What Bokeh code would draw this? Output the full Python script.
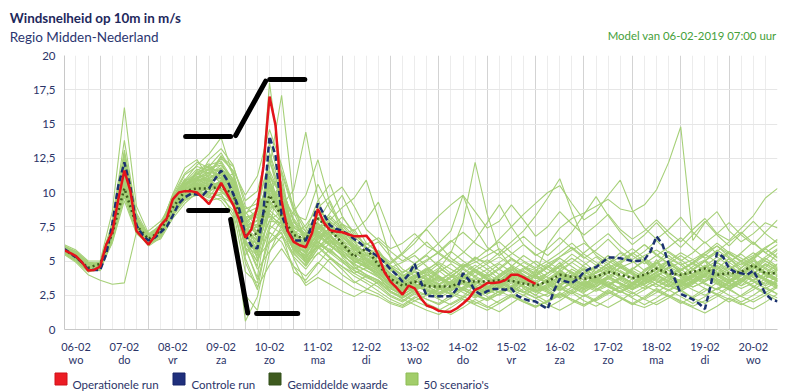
from bokeh.plotting import figure
from bokeh.models import Range1d, FixedTicker
from bokeh.layouts import column
from bokeh.embed import file_html
from bokeh.resources import INLINE
from bokeh.core.properties import value

# ---------------- data ----------------
# time axis: hours since 06-02 00:00
op_hours = list(range(6, 241, 3))
ctrl_hours = list(range(6, 361, 3))
scen_hours = list(range(6, 361, 6))

operational = [5.8,5.6,5.35,4.9,4.3,4.35,4.6,
               6.2,7.1,9.5,11.6,10.1,7.2,6.7,6.2,
               6.8,7.6,8.1,9.5,10.0,10.1,10.1,10.0,
               9.6,9.15,9.9,10.7,9.9,9.1,8.0,6.7,
               7.3,9.0,11.9,17.0,14.9,9.4,7.2,6.4,
               6.15,6.0,7.0,8.8,7.8,7.25,7.15,7.1,
               6.95,6.8,6.8,6.85,6.3,5.4,4.2,3.5,
               3.05,2.55,3.2,3.0,2.3,1.75,1.6,1.36,
               1.3,1.3,1.55,1.9,2.3,2.9,3.1,3.4,
               3.4,3.45,3.6,4.0,4.0,3.8,3.55,3.33]

control = [5.9,5.6,5.25,4.9,4.4,4.35,4.35,
           5.5,7.7,10.5,12.2,10.4,7.6,6.9,6.5,
           6.7,7.1,7.5,8.3,9.2,9.65,9.9,9.85,
           9.8,10.3,11.0,11.6,10.9,9.9,8.8,6.9,
           6.1,5.9,8.6,14.1,12.7,8.4,7.2,6.5,
           6.5,6.5,7.6,9.2,8.4,7.6,7.35,7.2,
           6.95,6.6,6.3,5.9,5.6,5.3,4.9,4.4,
           4.0,3.5,4.0,4.8,3.5,2.45,2.43,2.43,
           2.42,2.42,3.0,4.1,3.6,2.8,2.55,2.8,
           2.95,2.95,2.9,3.0,2.45,2.25,2.1,2.05,
           1.75,1.5,2.8,3.7,3.5,3.4,3.7,4.2,
           4.45,4.55,4.9,5.25,5.25,5.2,5.1,5.0,
           5.0,5.1,5.7,6.8,6.2,4.8,3.7,2.6,
           2.4,2.2,1.9,1.5,3.3,5.6,5.3,4.45,
           4.2,4.1,4.0,4.3,3.5,2.6,2.2,2.05]

mean_value = [5.8,5.3,4.5,4.8,7.0,10.3,7.6,6.6,7.2,8.9,
              10.1,10.3,10.3,10.4,9.9,6.8,7.0,9.8,8.3,6.9,
              6.6,8.1,7.3,6.3,5.3,5.95,4.7,3.7,3.2,3.5,
              3.15,3.14,3.14,3.5,3.5,3.5,3.6,3.55,3.35,3.2,
              3.5,4.0,3.85,3.7,3.85,4.2,4.0,3.75,4.0,4.45,
              4.1,4.0,4.2,4.45,4.0,4.1,4.2,4.7,4.1,4.1]

scenarios = [
 [5.9,5.4,4.5,4.9,7.5,12.5,7.8,6.4,7.0,9.2, 10.5,11.2,10.8,11.6,10.2,7.4,6.2,11.5,8.1,6.0, 5.4,7.2,6.5,5.8,4.9,5.2,4.6,3.5,2.9,3.4, 2.8,2.6,3.1,3.9,3.2,2.7,3.4,4.1,3.0,2.5, 3.2,4.4,3.6,3.1,4.2,4.8,3.7,3.2,3.9,5.1, 4.0,3.5,4.4,5.0,3.7,3.4,4.5,5.3,3.9,3.6],
 [5.7,5.1,4.4,4.5,6.6,10.2,7.3,6.9,7.6,9.6, 11.0,10.1,9.7,10.8,11.4,8.2,5.1,8.6,9.7,7.3, 6.1,8.8,7.9,6.2,5.0,4.6,5.3,4.4,3.6,2.9, 3.4,3.9,2.7,2.4,3.3,4.0,3.1,2.8,3.6,4.3, 3.5,3.0,2.6,3.4,4.5,3.9,3.3,2.9,3.6,4.2, 5.0,4.1,3.4,3.9,4.6,3.7,3.2,4.0,4.8,4.3],
 [6.1,5.6,4.8,4.4,7.9,13.8,8.4,6.2,6.8,8.4, 9.6,10.9,11.7,12.2,10.6,5.9,3.8,9.2,10.8,6.9, 4.8,6.1,8.3,7.4,6.2,5.1,4.2,3.1,2.6,3.8, 4.2,3.3,2.5,3.0,3.9,4.4,3.7,3.0,2.7,3.3, 4.1,4.9,4.0,3.4,3.1,3.8,4.6,4.1,3.3,3.8, 4.5,4.9,4.0,3.6,4.4,5.2,4.3,3.8,4.5,5.6],
 [5.6,5.0,4.2,4.6,6.3,9.4,7.0,6.5,7.4,9.9, 11.8,12.4,11.0,10.1,9.3,4.9,2.9,7.4,11.6,8.8, 7.1,6.4,5.6,6.9,7.3,6.0,4.9,3.8,3.3,2.7, 2.5,3.2,3.8,4.1,3.5,2.9,2.5,3.1,3.8,4.0, 3.3,2.8,3.4,4.0,3.6,3.1,2.7,3.3,4.4,4.9, 3.8,3.2,3.6,4.3,3.5,2.9,3.4,4.1,3.6,3.1],
 [5.5,4.9,4.0,3.6,3.3,3.4,7.1,7.2,7.9,9.3, 10.2,9.8,10.6,11.3,10.0,7.9,8.3,10.9,7.6,5.8, 5.2,6.6,7.0,5.3,4.4,4.9,5.8,4.6,3.9,4.2, 3.6,3.1,3.5,4.4,3.8,3.3,3.9,4.5,3.9,3.4, 3.9,4.6,4.2,3.8,4.1,4.6,4.2,3.7,4.2,4.9, 4.3,3.9,4.6,5.1,4.2,3.8,4.3,5.0,4.4,3.9],
 [6.2,5.8,5.0,5.0,8.6,16.2,9.0,7.0,7.6,9.0, 10.4,11.6,12.1,11.0,9.6,6.4,4.6,12.8,9.4,5.6, 4.6,5.9,6.8,7.6,6.5,4.6,3.9,2.8,2.3,2.9, 3.5,4.3,3.6,2.9,2.4,3.0,3.8,4.4,3.5,2.8, 2.4,3.1,3.9,4.5,3.8,3.2,3.7,4.4,5.0,4.1, 3.3,2.8,3.4,4.1,4.9,4.2,3.6,3.1,3.7,4.4],
 [5.8,5.2,4.7,4.8,7.2,11.9,7.9,6.7,7.1,9.4, 10.9,12.0,12.8,14.0,11.2,7.2,5.6,10.4,8.8,6.2, 5.6,7.8,6.9,6.0,5.5,5.8,4.4,3.3,2.8,3.1, 2.9,2.3,2.8,3.4,3.0,2.6,3.1,3.7,3.2,2.8, 3.0,3.6,3.1,2.7,3.3,3.9,3.4,3.0,3.5,4.0, 3.6,3.2,3.8,4.3,3.9,3.4,3.9,4.5,4.0,3.5],
 [5.9,5.5,4.6,4.3,6.9,10.8,7.4,6.3,6.6,8.1, 9.2,10.0,9.6,9.9,8.4,0.6,2.4,6.3,7.1,4.2, 3.6,4.8,5.9,5.0,4.1,3.6,3.1,2.4,2.0,2.6, 2.2,1.8,2.3,2.9,2.5,2.1,2.6,3.2,2.7,2.3, 2.6,3.2,2.8,2.4,2.9,3.5,3.0,2.6,3.1,3.7, 3.2,2.8,3.3,3.9,3.4,3.0,3.5,4.1,3.6,3.2],
 [5.7,5.2,4.5,4.8,7.4,12.1,8.1,6.8,7.3,9.1, 10.6,11.4,10.9,10.2,9.0,5.4,6.8,18.0,11.3,6.5, 5.0,6.3,7.5,6.6,5.2,4.5,4.0,3.0,2.5,3.1, 3.7,3.2,2.8,3.5,4.2,3.6,3.1,2.7,3.3,4.0, 3.4,2.9,3.5,4.2,3.7,3.2,2.8,3.4,4.1,3.6, 3.1,3.7,4.4,3.8,3.3,2.9,3.5,4.2,3.7,3.2],
 [6.0,5.5,4.7,4.6,7.1,11.3,7.7,6.5,7.5,9.5, 10.8,10.6,10.0,10.9,10.4,7.6,7.9,11.8,17.1,9.3, 6.0,7.0,6.2,5.4,4.8,5.5,4.8,3.7,3.0,3.6, 3.2,2.7,3.2,3.8,3.3,2.9,3.5,4.0,3.5,3.0, 3.6,4.2,3.7,3.3,3.9,4.4,3.9,3.4,3.8,4.5, 4.0,3.5,4.1,4.7,4.1,3.6,4.2,4.8,4.2,3.7],
 [5.8,5.3,4.6,4.9,7.6,11.6,8.0,6.8,7.2,8.7, 9.9,10.5,10.7,10.6,10.1,7.0,7.6,10.6,9.0,10.2, 14.4,9.6,6.8,5.9,5.3,4.8,4.2,3.4,2.9,3.3, 3.0,2.6,3.0,3.6,3.1,2.8,3.3,3.9,3.4,2.9, 3.3,3.9,3.4,3.0,3.6,4.1,3.6,3.1,3.6,4.2, 3.7,3.3,3.9,4.4,3.9,3.4,4.0,4.6,4.0,3.5],
 [5.6,5.1,4.4,4.7,6.8,10.6,7.5,6.6,7.0,8.6, 9.8,10.4,10.5,10.8,10.6,8.4,9.6,8.2,7.4,8.6, 9.8,12.4,9.2,7.1,5.9,5.2,4.6,3.6,3.1,3.5, 3.3,2.9,3.4,3.9,3.5,3.1,3.6,4.2,3.6,3.2, 3.5,4.1,3.6,3.2,3.7,4.3,3.8,3.3,3.8,4.4, 3.9,3.4,4.0,4.6,4.0,3.5,4.1,4.7,4.1,3.6],
 [5.9,5.4,4.7,4.5,7.3,12.8,8.2,6.6,6.9,8.8, 10.3,11.0,11.4,11.8,10.8,6.2,5.4,9.5,10.4,7.9, 6.4,7.3,8.0,8.9,9.6,10.9,8.1,5.2,4.1,4.8, 5.4,4.6,3.9,4.5,5.3,4.7,4.0,4.6,5.4,4.8, 4.1,4.7,5.5,4.9,4.2,4.8,5.6,5.0,4.3,4.9, 5.7,5.1,4.4,5.0,5.8,5.2,4.5,5.1,5.9,5.3],
 [5.7,5.2,4.5,4.6,7.0,10.9,7.6,6.5,7.3,9.2, 10.4,10.2,10.6,10.1,9.7,5.8,6.1,8.7,7.9,5.9, 5.1,6.8,6.1,5.5,4.7,4.3,3.8,3.2,2.7,3.2, 3.6,4.4,5.6,7.8,12.2,8.4,5.7,4.6,4.0,3.4, 3.0,3.6,4.2,3.6,3.1,3.7,4.3,3.8,3.3,3.9, 4.5,3.9,3.4,4.0,4.6,4.0,3.5,4.1,4.7,4.1],
 [5.8,5.3,4.6,4.8,7.2,11.4,7.8,6.6,7.0,8.5, 9.7,10.3,10.8,11.1,10.3,7.7,8.6,11.0,8.2,6.3, 6.0,7.5,7.8,6.8,5.8,5.4,5.0,4.1,3.5,4.0, 3.7,3.3,3.8,4.6,5.2,4.9,5.6,6.4,7.2,8.3, 9.6,11.0,8.6,6.5,5.4,4.8,5.3,5.9,5.2,4.6, 5.0,5.6,5.1,4.5,5.0,5.7,5.2,4.7,5.3,5.9],
 [6.0,5.6,4.9,4.8,7.7,12.2,7.9,6.7,7.1,8.8, 9.9,10.4,10.2,10.9,9.5,6.6,7.0,9.3,8.0,6.1, 5.7,7.1,6.4,5.8,5.0,4.7,4.3,3.6,3.1,3.6, 4.0,3.5,4.1,4.8,4.3,3.8,4.4,5.1,4.6,4.1, 6.2,7.4,8.1,8.5,9.0,9.5,8.8,8.6,9.1,10.2, 12.2,14.8,6.5,7.8,8.6,7.2,6.4,7.0,7.8,7.4],
 [5.9,5.4,4.6,4.7,7.1,11.8,8.0,6.9,7.5,9.3, 10.7,11.1,11.3,12.0,11.0,8.8,9.2,12.3,9.9,7.5, 6.8,8.4,7.6,6.9,6.1,5.6,5.2,4.8,5.5,6.3, 7.4,8.3,9.1,9.8,8.6,7.4,7.9,9.1,8.0,6.8, 7.5,8.6,7.7,6.9,7.6,8.4,7.3,6.6,7.2,8.0, 7.1,6.4,7.3,8.1,7.0,6.5,7.4,8.3,9.6,10.3],
 [5.8,5.3,4.5,4.6,6.9,10.4,7.4,6.4,7.0,8.9, 10.0,10.7,11.5,12.6,11.9,9.4,10.1,13.6,10.5,7.8, 7.2,9.4,10.6,8.3,6.9,6.2,6.7,5.9,6.3,7.0, 6.1,5.6,6.4,7.1,6.3,5.7,6.6,7.5,8.4,9.2, 10.0,10.5,9.2,8.0,8.6,9.8,10.9,8.7,7.4,6.6, 7.3,8.2,7.1,6.3,7.0,7.8,6.9,6.2,7.1,8.0],
 [5.6,5.0,4.3,4.5,6.5,9.8,7.2,6.3,7.1,9.6, 11.3,11.9,11.6,11.2,10.6,8.0,8.7,10.2,8.7,7.0, 7.6,8.9,9.7,10.4,9.0,7.3,6.5,5.7,5.0,5.6, 6.4,5.5,4.9,5.6,6.5,7.8,9.1,7.5,6.2,5.4, 5.9,6.7,5.9,5.2,5.8,6.6,5.7,5.1,5.7,6.5, 5.6,5.0,5.6,6.4,5.5,4.9,5.6,6.4,5.6,5.0],
 [6.0,5.5,4.7,4.9,7.8,13.1,8.5,6.9,7.4,9.0, 10.2,10.9,12.4,13.2,12.0,9.0,8.1,11.1,9.8,8.4, 8.0,10.6,8.8,7.7,7.2,8.0,9.3,7.0,5.4,4.8, 5.5,6.3,7.2,9.8,7.4,6.0,5.4,6.1,6.8,6.0, 5.4,6.2,7.1,8.4,9.7,8.3,7.1,6.2,6.9,7.8, 6.8,6.0,6.9,7.9,6.9,6.1,7.0,7.9,7.0,6.3],
 [5.7,5.1,4.3,4.4,6.7,10.0,7.1,6.1,6.7,8.3, 9.4,9.9,9.4,9.6,8.7,4.2,3.4,7.1,6.4,4.6, 3.9,4.9,4.2,3.6,3.0,2.7,2.4,1.9,1.6,2.1, 1.7,1.4,1.9,2.4,2.0,1.6,2.1,2.6,2.1,1.7, 2.0,2.6,2.1,1.7,2.2,2.8,2.3,1.8,2.3,2.9, 2.4,1.9,2.4,3.0,2.5,2.0,2.5,3.1,2.6,2.1],
 [5.8,5.2,4.4,4.3,6.4,9.7,7.0,6.2,6.9,8.7, 9.8,10.2,9.8,9.4,8.2,2.5,1.4,5.6,7.6,5.2, 3.4,4.1,5.2,4.4,3.5,3.0,2.6,2.0,1.7,2.3, 2.7,2.2,1.8,2.3,2.9,2.4,1.9,2.4,3.0,2.5, 2.0,2.5,3.1,2.6,2.1,2.6,3.2,2.7,2.2,2.7, 3.3,2.8,2.3,2.8,3.4,2.9,2.4,2.9,3.5,3.0],
 [5.9,5.4,4.6,4.5,7.0,11.2,7.7,6.6,7.2,8.7, 9.5,9.8,10.1,10.5,9.8,6.5,4.4,5.7,6.8,5.3, 4.4,5.6,4.9,4.0,3.4,3.9,3.3,2.5,2.1,2.7, 2.2,1.9,2.5,3.1,2.6,2.2,2.8,3.4,2.8,2.3, 1.8,1.4,1.9,2.5,2.0,1.6,2.1,2.7,2.2,1.8, 2.3,2.9,2.3,1.9,2.4,3.0,2.4,2.0,2.5,3.1],
 [5.6,5.0,4.2,4.4,6.6,10.5,7.3,6.4,7.0,8.5, 9.6,10.0,10.4,10.2,9.1,5.2,3.1,4.7,5.9,4.6, 3.2,3.8,3.3,2.8,2.4,2.9,3.5,2.8,2.2,1.8, 1.4,1.1,1.6,2.2,1.8,1.4,1.9,2.5,2.0,1.6, 2.1,2.7,2.2,1.8,2.3,2.9,2.4,1.9,2.4,3.0, 2.5,2.0,1.6,1.2,1.7,2.3,1.9,1.5,2.0,2.6],
 [5.8,5.3,4.5,4.6,6.8,10.9,7.5,6.5,7.1,8.8, 10.0,10.3,10.0,9.7,9.2,7.1,5.2,6.4,7.3,5.8, 4.9,6.1,5.3,4.6,3.9,3.4,2.8,2.2,1.8,2.4, 1.9,1.5,1.1,1.6,2.2,1.7,1.3,1.9,2.5,2.0, 1.6,2.1,2.7,2.1,1.7,2.2,2.8,2.3,1.8,2.3, 2.9,2.4,1.9,2.4,3.0,2.5,2.0,2.5,3.1,2.6],
 [6.1,5.7,4.9,4.8,7.5,12.9,8.3,6.8,7.3,9.0, 10.3,11.5,11.9,11.4,10.9,8.6,7.4,10.0,8.9,7.1, 6.3,7.6,6.8,6.2,5.8,6.3,5.7,4.4,3.7,4.3, 3.8,3.3,3.9,4.5,3.9,3.4,4.0,4.6,4.0,3.5, 4.1,4.7,4.1,3.6,4.2,4.8,4.2,3.7,4.3,4.9, 4.3,3.8,4.4,5.0,4.4,3.9,4.5,5.1,4.5,4.0],
 [5.7,5.2,4.4,4.7,7.3,11.5,7.9,6.7,7.6,9.8, 11.4,12.2,11.8,11.0,10.5,7.3,6.5,9.0,10.3,8.0, 6.6,7.0,7.9,7.2,6.4,5.5,4.9,4.0,3.4,3.0, 3.5,4.2,4.8,4.1,3.5,3.1,3.6,4.3,4.9,4.4, 3.8,3.3,3.9,4.7,5.3,4.6,3.9,3.4,4.0,4.8, 5.4,4.7,4.0,3.5,4.1,4.9,5.5,4.8,4.1,3.6],
 [5.9,5.4,4.7,4.6,7.2,11.0,7.7,6.6,7.2,9.3, 10.6,11.3,12.0,12.3,10.9,7.8,6.0,8.8,9.5,7.4, 6.9,8.1,7.3,6.4,5.7,5.0,4.5,3.8,3.3,3.9, 4.5,3.9,3.3,2.9,3.4,4.1,4.8,4.2,3.6,3.1, 3.5,4.2,4.9,4.3,3.7,3.2,3.7,4.4,5.1,4.5, 3.9,3.4,3.9,4.6,5.3,4.7,4.1,3.6,4.1,4.8],
 [5.8,5.3,4.6,4.8,7.4,12.0,8.1,6.9,7.4,9.1, 10.2,10.8,11.2,12.7,11.5,8.5,8.9,10.5,8.4,6.4, 5.5,6.8,7.1,6.5,5.9,5.1,4.6,3.9,3.6,4.2, 3.6,3.0,3.5,4.1,4.7,4.1,3.5,3.0,3.5,4.1, 4.7,4.1,3.5,3.0,3.5,4.2,4.8,4.2,3.6,3.1, 3.6,4.3,4.9,4.3,3.7,3.2,3.7,4.4,5.0,4.4],
 [5.6,5.1,4.5,4.6,6.9,10.7,7.6,6.8,7.7,9.7, 10.9,11.0,10.5,11.7,10.8,7.9,6.9,8.5,7.5,6.1, 5.3,6.5,7.4,8.2,7.1,6.0,5.3,4.5,4.9,5.4, 4.6,3.9,3.4,3.8,4.4,3.7,3.2,2.8,3.3,3.9, 4.5,5.2,4.6,4.0,3.6,3.2,3.8,4.5,4.0,3.5, 3.1,3.6,4.3,5.0,5.6,4.9,4.3,3.8,3.3,3.9],
 [5.9,5.5,4.8,4.7,7.4,12.3,8.0,6.6,6.9,8.6, 9.9,10.6,11.1,11.5,10.4,7.0,5.9,8.0,8.6,6.7, 5.9,7.4,6.6,5.7,5.3,4.7,4.1,3.3,2.8,3.5, 4.1,4.8,4.1,3.5,3.0,2.6,3.2,3.9,4.5,3.9, 3.3,2.9,3.4,4.0,3.5,3.1,2.7,3.2,3.8,4.4, 5.0,4.4,3.8,3.3,2.9,3.4,4.0,4.6,5.2,4.6],
 [5.7,5.2,4.3,4.5,6.7,10.1,7.2,6.3,7.0,9.0, 10.5,11.3,11.7,11.6,10.7,8.1,7.0,9.6,9.1,7.6, 7.0,8.6,8.1,7.3,6.5,5.9,5.4,4.6,4.0,3.7, 4.3,5.0,5.7,5.0,4.4,3.9,4.5,5.2,4.6,4.0, 4.6,5.3,6.0,5.3,4.7,4.2,4.8,5.5,6.2,5.5, 4.8,4.3,4.9,5.6,6.3,5.6,5.0,4.5,5.1,5.8],
 [5.8,5.4,4.6,4.4,6.9,11.3,7.6,6.5,7.0,8.6, 9.8,10.4,10.8,10.5,9.4,6.0,5.0,7.6,7.0,5.5, 4.7,5.9,6.5,5.6,4.6,4.0,3.6,3.0,2.6,3.0, 3.5,3.0,2.6,3.1,3.7,3.2,2.7,3.2,3.8,3.3, 2.8,2.4,2.9,3.5,3.0,2.6,3.1,3.7,3.2,2.8, 2.4,2.9,3.5,3.0,2.6,3.1,3.7,3.2,2.7,3.2],
 [6.0,5.6,4.8,4.9,7.6,12.6,8.2,6.9,7.3,8.9, 10.1,10.5,11.0,11.8,10.3,7.5,8.0,10.8,9.2,6.6, 5.8,6.9,6.3,5.9,5.4,4.9,4.4,3.7,3.2,3.8, 4.4,3.8,3.3,3.8,4.5,5.1,4.4,3.8,3.4,3.9, 4.6,4.0,3.5,4.0,4.7,5.4,4.7,4.1,3.6,4.1, 4.8,4.2,3.6,4.2,4.9,5.6,4.9,4.3,3.7,4.3],
 [5.7,5.1,4.4,4.7,7.0,10.3,7.3,6.5,7.2,9.2, 10.6,10.9,10.6,10.3,9.6,6.7,6.3,9.9,8.6,6.0, 5.0,6.2,5.7,5.1,4.3,3.8,3.4,2.7,2.3,2.8, 3.3,3.8,3.2,2.7,2.3,2.8,3.4,2.9,2.5,3.0, 3.6,3.1,2.6,3.1,3.7,3.2,2.7,3.2,3.8,3.3, 2.8,3.3,3.9,3.4,2.9,3.4,4.0,3.5,3.0,3.5],
 [5.9,5.3,4.6,4.6,7.1,11.7,7.8,6.6,7.1,8.8, 10.0,10.6,11.3,12.5,11.6,9.8,11.2,14.6,12.0,8.9, 7.4,8.2,7.5,6.7,6.0,5.3,4.7,3.9,3.4,3.9, 3.4,2.9,3.4,4.0,3.5,3.0,3.5,4.1,3.6,3.1, 3.7,4.3,3.8,3.3,3.8,4.4,3.9,3.4,3.9,4.5, 4.0,3.5,4.0,4.6,4.1,3.6,4.1,4.7,4.2,3.7],
 [5.8,5.2,4.5,4.5,6.8,10.4,7.4,6.4,6.8,8.4, 9.5,10.1,10.3,10.9,10.0,7.4,6.7,12.9,10.2,7.0, 6.0,7.9,9.4,7.4,5.7,5.0,4.4,3.6,3.1,3.6, 3.1,2.7,3.1,3.6,3.1,2.7,3.2,3.7,3.2,2.8, 3.3,3.8,3.3,2.9,3.4,3.9,3.4,3.0,3.5,4.0, 3.5,3.1,3.6,4.1,3.6,3.2,3.7,4.2,3.7,3.3],
 [5.6,5.0,4.3,4.6,6.9,10.6,7.5,6.6,7.3,9.4, 10.8,11.7,11.4,10.7,9.8,6.9,6.6,10.1,11.4,8.6, 6.5,6.0,6.9,7.7,6.8,5.9,5.6,4.7,4.2,4.6, 5.1,5.6,5.0,4.5,4.9,5.4,5.9,5.2,4.6,4.3, 4.8,5.3,5.8,6.3,5.6,5.0,4.5,4.9,5.4,5.8, 5.2,4.7,5.1,5.6,6.1,5.5,5.0,5.4,6.0,6.5],
 [6.0,5.5,4.8,4.5,7.0,11.1,7.7,6.6,7.1,8.7, 9.9,10.0,9.9,10.0,9.5,6.3,5.7,7.9,7.8,5.9, 5.4,6.0,5.2,4.6,4.1,4.5,4.9,4.1,3.5,2.9, 2.5,2.9,3.4,2.9,2.5,2.2,2.6,3.1,3.6,3.1, 2.7,2.3,2.8,3.3,3.8,3.3,2.8,2.4,2.9,3.4, 3.9,3.4,2.9,2.5,3.0,3.5,4.0,3.5,3.0,2.6],
 [5.8,5.3,4.6,4.6,7.0,11.5,7.8,6.7,7.2,9.0, 10.1,10.9,11.2,11.3,10.4,7.3,7.7,9.4,8.3,6.5, 6.2,7.2,6.6,6.0,5.5,5.9,6.4,5.3,4.4,3.9, 4.4,4.9,4.4,3.9,4.3,4.8,5.3,4.7,4.2,3.7, 4.1,4.6,5.2,4.6,4.1,4.5,5.0,5.6,5.0,4.4, 4.0,4.4,4.9,5.5,4.9,4.4,4.8,5.3,5.9,5.2],
 [5.7,5.2,4.4,4.8,7.3,12.4,8.0,6.7,7.1,8.9, 10.3,10.7,10.4,10.6,10.0,6.0,3.6,6.6,8.0,6.2, 5.2,6.4,5.8,5.1,4.5,4.0,3.6,3.0,2.5,2.1, 2.5,3.0,2.6,2.2,1.9,2.3,2.8,2.4,2.0,1.7, 2.1,2.6,2.2,1.8,2.2,2.7,2.3,1.9,1.6,2.0, 2.5,2.1,1.7,2.1,2.6,2.2,1.8,2.2,2.7,2.3],
 [5.9,5.4,4.5,4.6,7.1,11.9,7.9,6.7,7.4,9.4, 10.8,11.4,11.9,12.9,11.3,8.3,7.1,9.1,9.9,8.1, 6.9,8.2,7.6,6.8,6.0,5.4,5.0,4.3,3.8,4.4, 5.0,5.7,6.5,5.7,5.0,4.4,4.9,5.5,6.2,5.5, 4.9,4.4,4.9,5.6,6.3,7.0,6.1,5.4,4.8,5.4, 6.0,6.7,5.9,5.2,5.7,6.4,7.1,6.3,5.6,6.2],
 [5.8,5.2,4.6,4.7,7.2,11.2,7.6,6.5,6.9,8.6, 9.9,10.4,10.6,10.3,9.9,7.6,7.2,8.3,7.7,6.3, 5.6,6.7,7.4,6.3,5.1,4.6,4.1,3.4,3.0,3.4, 3.9,4.5,3.9,3.3,2.9,3.3,3.8,4.4,3.8,3.3, 2.9,3.3,3.8,4.4,3.9,3.4,3.0,3.4,3.9,4.5, 4.0,3.5,3.1,3.5,4.0,4.6,4.1,3.6,3.2,3.6],
 [5.6,5.1,4.4,4.5,6.8,10.1,7.3,6.4,7.0,9.1, 10.5,11.1,11.5,11.2,10.2,7.1,7.5,11.6,9.6,7.2, 6.7,7.7,6.9,6.1,5.2,4.8,5.3,4.5,3.9,4.5, 4.0,3.6,4.1,4.7,4.2,3.7,3.3,3.8,4.4,5.0, 4.4,3.9,3.5,4.0,4.6,5.2,4.6,4.1,3.7,4.2, 4.8,5.4,4.8,4.3,3.9,4.4,5.0,5.6,5.0,4.5],
 [6.1,5.7,4.9,4.7,7.5,12.0,8.1,6.8,7.2,8.8, 10.0,10.5,10.9,11.0,10.5,8.2,8.4,10.4,8.1,5.7, 4.9,5.5,6.3,7.0,6.2,5.5,4.9,4.0,3.4,3.0, 3.4,3.9,3.4,3.0,2.7,3.1,3.6,3.1,2.7,3.1, 3.6,4.2,3.7,3.2,2.8,3.2,3.7,4.3,3.8,3.3, 2.9,3.3,3.8,4.4,3.9,3.4,3.0,3.4,3.9,4.5],
 [5.8,5.3,4.6,4.6,7.0,11.4,7.7,6.6,7.2,9.0, 10.2,10.6,10.4,10.8,10.3,7.7,8.8,12.4,9.1,6.9, 6.6,7.0,6.1,5.4,4.8,4.3,3.9,3.2,2.8,3.2, 2.8,2.5,2.9,3.4,3.0,2.6,3.0,3.5,3.1,2.7, 3.1,3.6,3.2,2.8,3.2,3.7,3.3,2.9,3.3,3.8, 3.4,3.0,3.4,3.9,3.5,3.1,3.5,4.0,3.6,3.2],
 [5.7,5.1,4.3,4.5,6.6,10.0,7.1,6.3,7.0,8.9, 10.4,11.1,11.8,12.0,10.9,7.8,6.9,9.7,8.8,6.8, 6.0,7.3,8.5,9.8,7.9,6.3,5.6,4.9,5.6,6.6, 7.3,6.2,5.2,4.6,5.1,5.8,6.4,5.6,5.0,4.5, 5.0,5.6,6.3,5.5,4.9,4.4,4.9,5.5,6.2,5.4, 4.8,4.3,4.8,5.4,6.1,5.3,4.7,5.2,5.9,6.6],
 [5.9,5.4,4.7,4.8,7.3,11.6,7.9,6.7,7.0,8.5, 9.7,10.2,10.5,10.7,10.1,6.6,4.9,7.3,8.3,6.4, 5.7,6.4,5.6,4.9,4.3,3.9,3.5,2.8,2.4,2.9, 3.4,3.0,2.6,3.0,3.5,3.1,2.7,3.1,3.6,3.2, 2.8,3.2,3.7,3.3,2.9,3.3,3.8,3.4,3.0,3.4, 3.9,3.5,3.1,3.5,4.0,3.6,3.2,3.6,4.1,3.7],
 [5.8,5.3,4.5,4.7,7.2,11.1,7.7,6.6,7.3,9.2, 10.6,11.0,10.8,11.1,10.5,7.5,6.4,8.9,9.3,7.1, 6.1,7.5,6.7,6.2,5.6,5.0,4.6,3.8,3.2,3.7, 4.3,3.7,3.2,3.7,4.3,3.8,3.3,3.7,4.3,3.8, 3.4,3.8,4.4,3.9,3.4,3.8,4.5,4.0,3.5,3.9, 4.6,4.1,3.6,4.0,4.7,4.2,3.7,4.1,4.8,4.3],
 [5.7,5.2,4.5,4.6,6.9,10.8,7.5,6.5,7.1,8.9, 10.2,10.9,11.0,11.4,10.6,7.0,5.5,11.2,10.0,7.0, 5.9,6.9,6.2,5.6,5.0,4.5,4.1,3.3,2.9,3.3, 2.9,2.6,3.0,3.5,3.1,2.7,3.1,3.6,3.2,2.8, 3.2,3.7,3.3,2.9,3.3,3.8,3.4,3.0,3.4,3.9, 3.5,3.1,3.5,4.0,3.6,3.2,3.6,4.1,3.7,3.3],
]

# hand-drawn markup on the picture (hours, m/s)
markup_x = [[66.4, 88.7], [91.2, 106.1], [108.1, 125.5], [67.9, 87.2], [88.7, 97.2], [101.6, 122.0]]
markup_y = [[14.09, 14.09], [14.16, 18.13], [18.24, 18.24], [8.68, 8.68], [8.04, 1.2], [1.17, 1.17]]

label_hours = [12, 36, 60, 84, 108, 132, 156, 180, 204, 228, 252, 276, 300, 324, 348]
day_labels = ["06-02\nwo", "07-02\ndo", "08-02\nvr", "09-02\nza", "10-02\nzo", "11-02\nma",
              "12-02\ndi", "13-02\nwo", "14-02\ndo", "15-02\nvr", "16-02\nza", "17-02\nzo",
              "18-02\nma", "19-02\ndi", "20-02\nwo"]
midnight_hours = [24, 48, 72, 96, 120, 144, 168, 192, 216, 240, 264, 288, 312, 336, 360]
y_ticks = [0, 2.5, 5, 7.5, 10, 12.5, 15, 17.5, 20]
y_labels = ["0", "2,5", "5", "7,5", "10", "12,5", "15", "17,5", "20"]

title_text = "Windsnelheid op 10m in m/s"
subtitle_text = "Regio Midden-Nederland"
model_text = "Model van 06-02-2019 07:00 uur"
legend_labels = ["Operationele run", "Controle run", "Gemiddelde waarde", "50 scenario's"]
legend_fill = ["#ec1c24", "#1f2f7c", "#3e5a1e", "#a2cd6a"]
legend_edge = ["#d01018", "#17256a", "#33501a", "#8dbd55"]

# ---------------- styling ----------------
NAVY_TXT = "#2b3468"
FONT = "Lato"
W = 798

def bare(height):
    f = figure(width=W, height=height, output_backend="svg", toolbar_location=None,
               x_range=Range1d(0, W), y_range=Range1d(height, 0), title=None,
               x_axis_type=None, y_axis_type=None, min_border=0)
    f.outline_line_color = None
    f.frame_align = False
    return f

# header with titles (pixel layout, y downwards)
head = bare(46)
head.text(x=[9.3], y=[17.5], text=[title_text], text_font=value(FONT), text_font_style="bold",
          text_font_size="13.4px", text_color="#1d285c", text_baseline="alphabetic")
head.text(x=[9.3], y=[36.7], text=[subtitle_text], text_font=value(FONT),
          text_font_size="13.5px", text_color="#2b3670", text_baseline="alphabetic")
head.text(x=[776], y=[35], text=[model_text], text_font=value(FONT),
          text_font_size="11.4px", text_color="#45a03a", text_align="right",
          text_baseline="alphabetic")

# main chart
p = figure(width=W, height=322, output_backend="svg", toolbar_location=None,
           x_range=Range1d(6.3, 360), y_range=Range1d(0, 20), title=None,
           min_border_left=64, min_border_right=21, min_border_top=9, min_border_bottom=34)
p.outline_line_color = None
p.frame_align = False

p.xgrid.ticker = FixedTicker(ticks=midnight_hours,
                             minor_ticks=[h for h in scen_hours if h not in midnight_hours])
p.xgrid.grid_line_color = "#d3d3d3"
p.xgrid.minor_grid_line_color = "#ececec"
p.ygrid.ticker = FixedTicker(ticks=y_ticks)
p.ygrid.grid_line_color = "#e6e6e6"

p.xaxis.ticker = FixedTicker(ticks=label_hours)
p.xaxis.major_label_overrides = {h: t for h, t in zip(label_hours, day_labels)}
p.yaxis.ticker = FixedTicker(ticks=y_ticks)
p.yaxis.major_label_overrides = {v: t for v, t in zip(y_ticks, y_labels)}
for ax in (p.xaxis[0], p.yaxis[0]):
    ax.axis_line_color = "#c8c8c8"
    ax.major_tick_line_color = None
    ax.minor_tick_line_color = None
    ax.major_label_text_font = FONT
    ax.major_label_text_color = NAVY_TXT
p.xaxis.major_label_text_font_size = "11px"
p.xaxis.major_label_text_line_height = 1.0
p.yaxis.major_label_text_font_size = "11.5px"
p.xaxis.major_label_standoff = 4
p.yaxis.major_label_standoff = 3

p.multi_line(xs=[scen_hours[:len(s)] for s in scenarios], ys=scenarios,
             line_color="#a6d078", line_width=1.1)
p.line(scen_hours[:len(mean_value)], mean_value, line_color="#3d5c1c", line_width=2.5,
       line_dash="2 3")
p.line(ctrl_hours[:len(control)], control, line_color="#1b3170", line_width=2.5,
       line_dash="6 3")
p.line(op_hours[:len(operational)], operational, line_color="#e4141b", line_width=2.5)
p.multi_line(xs=markup_x, ys=markup_y, line_color="black", line_width=5, line_cap="round")

# footer with the legend (pixel layout, y downwards)
foot = bare(23)
swatch_x = [60.5, 178.5, 274.5, 411.5]
text_x = [72, 191, 287, 423]
foot.rect(x=swatch_x, y=[10.5] * 4, width=12, height=12,
          fill_color=legend_fill, line_color=legend_edge)
foot.text(x=text_x, y=[16] * 4, text=legend_labels, text_font=value(FONT),
          text_font_size="11.5px", text_color=NAVY_TXT, text_baseline="alphabetic")

layout = column(head, p, foot, spacing=0)
open("out.html", "w").write(file_html(layout, INLINE))
